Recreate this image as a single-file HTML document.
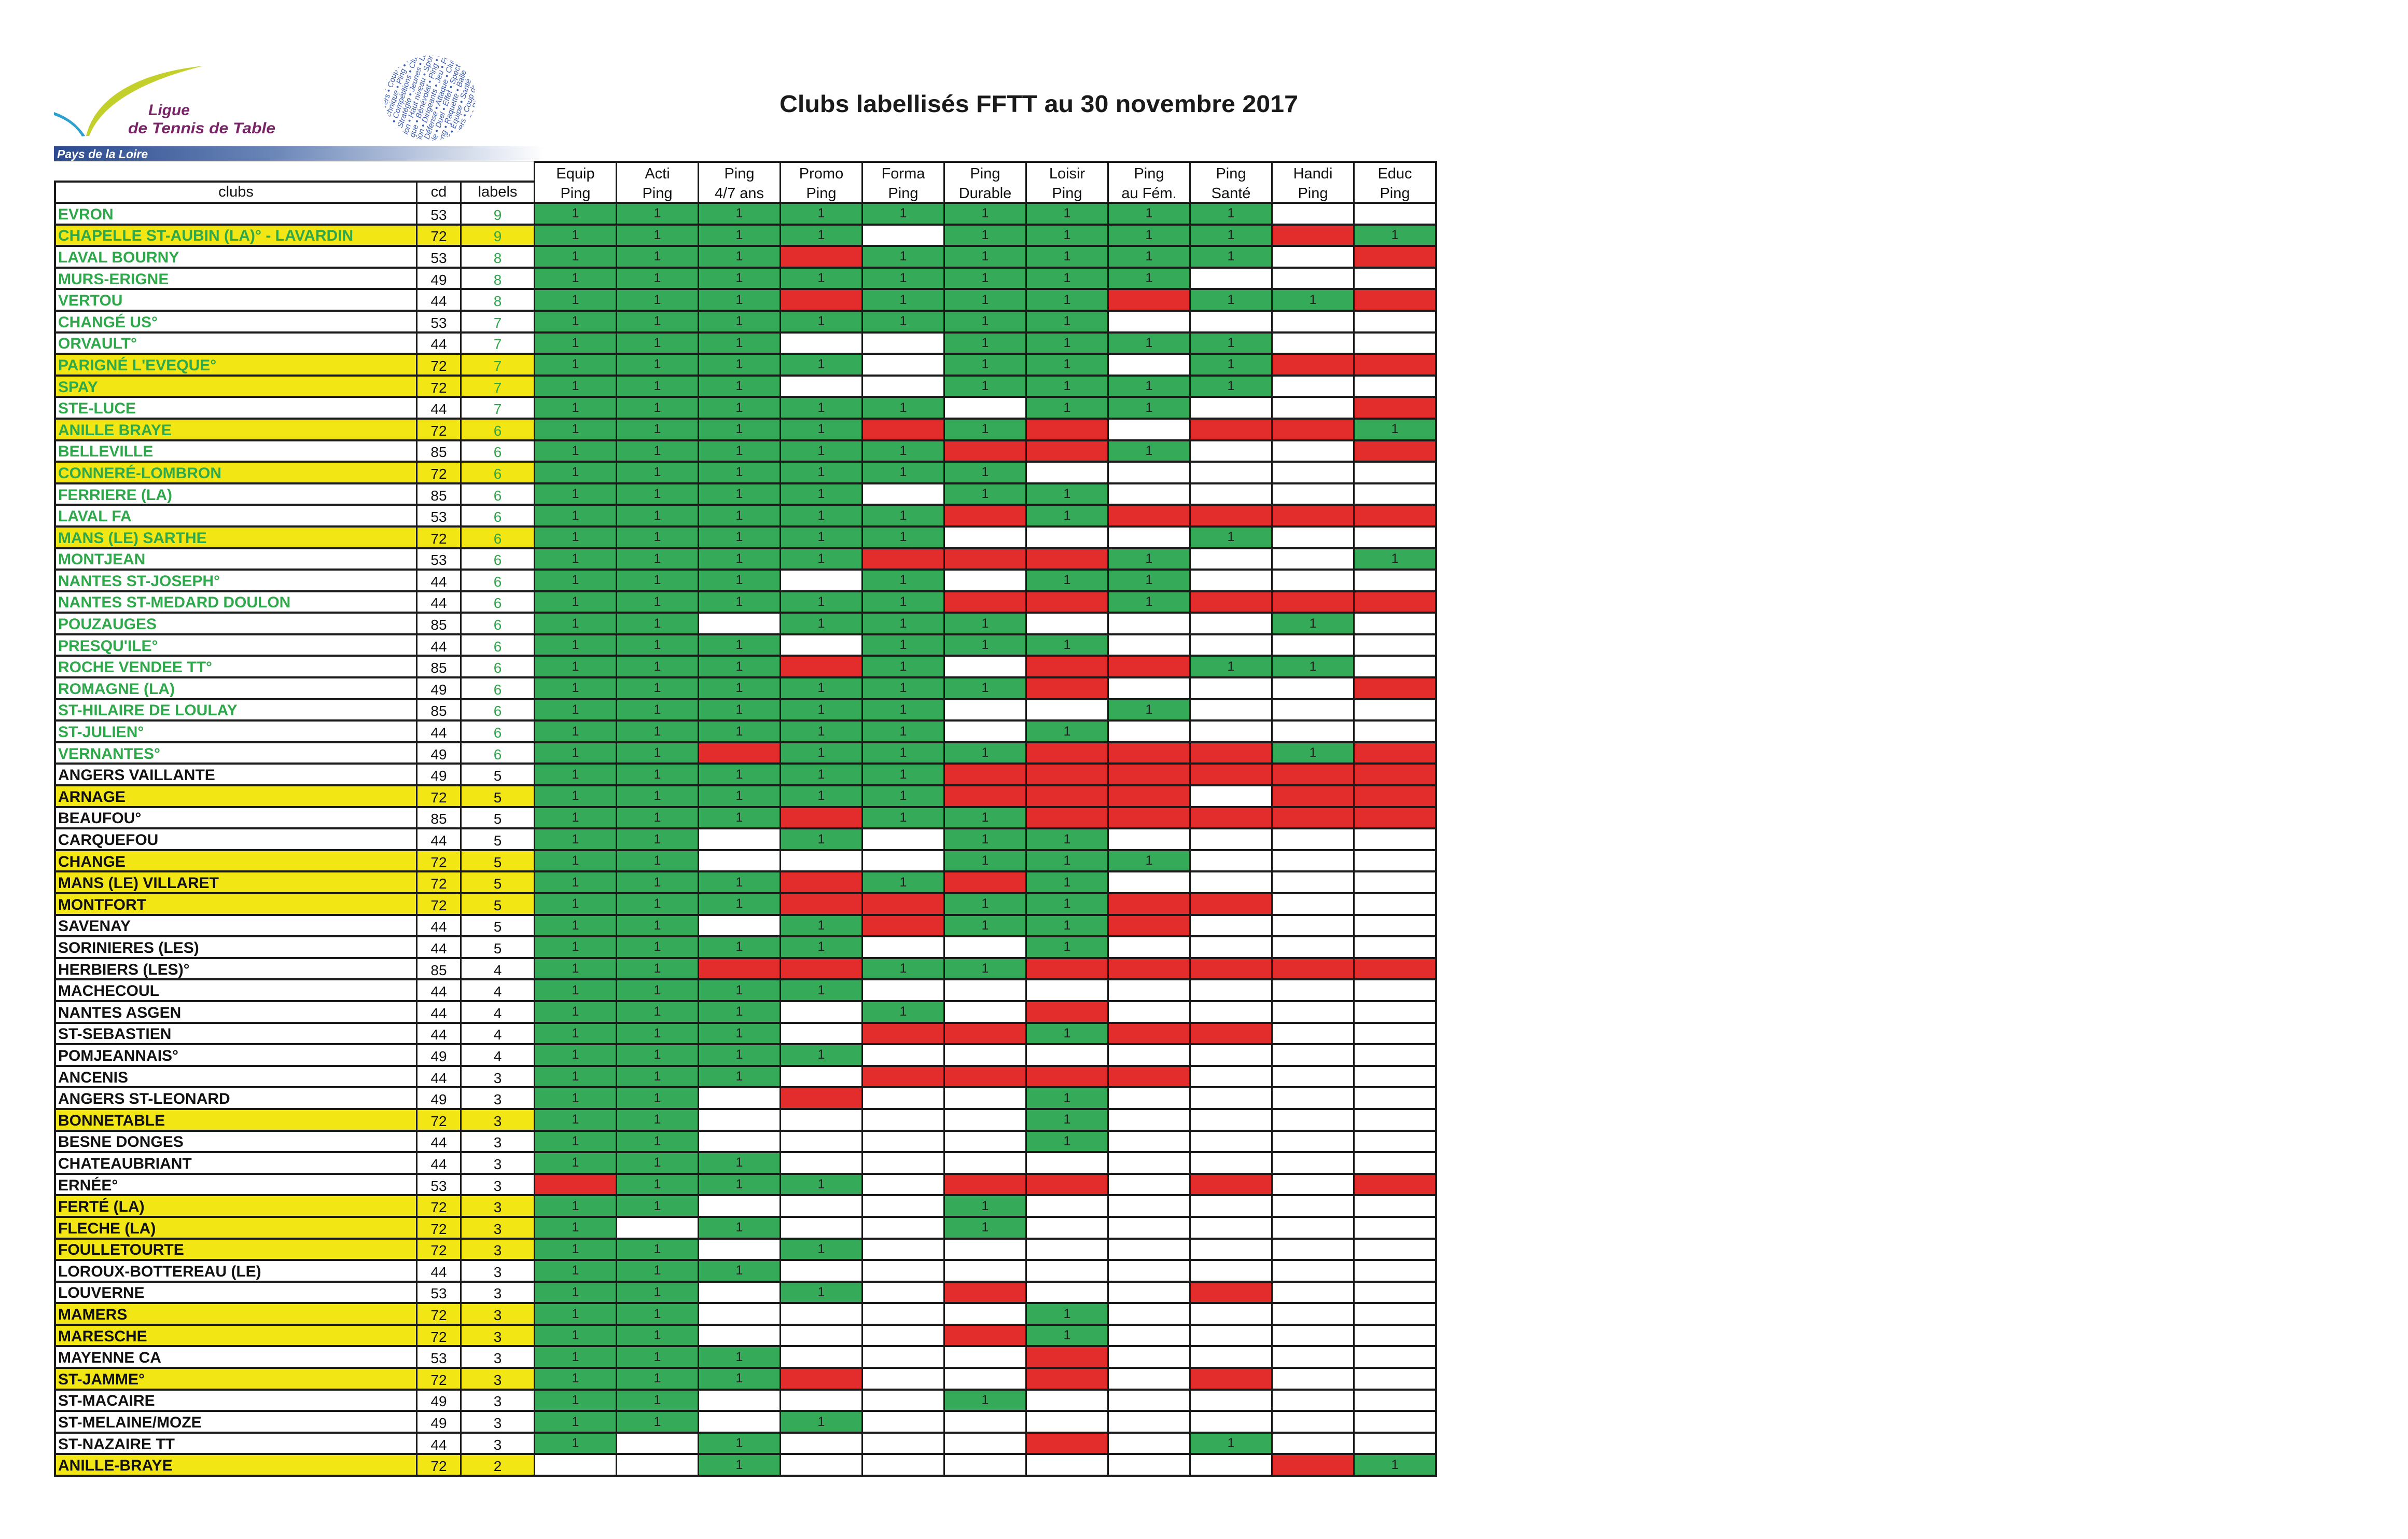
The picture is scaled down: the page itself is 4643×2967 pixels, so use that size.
<!DOCTYPE html>
<html><head><meta charset="utf-8">
<style>
html,body{margin:0;padding:0;background:#fff;}
body{width:4643px;height:2967px;position:relative;overflow:hidden;font-family:"Liberation Sans",sans-serif;}
svg.top{position:absolute;left:0;top:0;}
#t{position:absolute;left:104px;top:310px;display:grid;background:#1a1a1a;padding:4px;
grid-template-columns:694px 82px 139px repeat(11,155px);column-gap:3px;row-gap:4px;
grid-template-rows:34px 37px repeat(59,37.6px);}
#t c{display:flex;align-items:center;justify-content:center;background:#fff;font-size:25px;color:#222;white-space:nowrap;overflow:hidden;}
#t .row{display:contents;}
#t c.hd{grid-row:1/3;flex-direction:column;font-size:29px;line-height:38px;color:#111;padding-top:4px;}
#t c.h2{grid-row:2;font-size:29px;color:#111;}
#t .row c:nth-child(1){justify-content:flex-start;padding-left:4px;font-size:30px;font-weight:bold;color:#2ea84a;padding-top:4px;}
#t .row c:nth-child(2){font-size:28px;color:#111;padding-top:6px;}
#t .row c:nth-child(3){font-size:28px;color:#2ea84a;padding-top:6px;}
#t .k c:nth-child(1),#t .k c:nth-child(3){color:#111;}
#t .y c:nth-child(-n+3){background:#f2e614;}
#t c.g{background:#35aa58;}
#t c.r{background:#e32d2d;}
#cover{position:absolute;left:96px;top:311px;width:933px;height:37px;background:#fff;}
</style></head><body>
<svg class="top" width="4643" height="320" viewBox="0 0 4643 320">
<defs>
<linearGradient id="pg" x1="0" x2="1" y1="0" y2="0"><stop offset="0" stop-color="#2b4a8f"/><stop offset="0.45" stop-color="#6b86b8"/><stop offset="1" stop-color="#ffffff"/></linearGradient>
<clipPath id="cc"><ellipse cx="829" cy="189" rx="88" ry="82"/></clipPath>
</defs>
<path d="M392,127 C300,150 200,190 172,262 L166,262 C185,185 270,140 392,127 Z" fill="#c3cf2a"/>
<path d="M104,216 C130,225 150,240 164,262 L158,263 C148,245 128,230 104,222 Z" fill="#2a9fd0"/>
<text x="286" y="222" font-size="30" font-style="italic" font-weight="bold" fill="#7a2468" font-family="Liberation Sans">Ligue</text>
<text x="247" y="257" font-size="30" font-style="italic" font-weight="bold" fill="#7a2468" font-family="Liberation Sans" textLength="284" lengthAdjust="spacingAndGlyphs">de Tennis de Table</text>
<g clip-path="url(#cc)" fill="#3a5cb0" font-size="15" font-family="Liberation Sans" font-style="italic">
<g transform="rotate(-72 829 189)">
<text x="700" y="100">Jeu • Loisir • Équipe • Santé • Jeu • Loisir • Club</text>
<text x="700" y="114">Service • Revers • Coup droit • Jeu • Service</text>
<text x="700" y="128">Agilité • Technique • Ping • Pong • Agilité</text>
<text x="700" y="142">Fair-play • Compétitions • Club • Fair-play</text>
<text x="700" y="156">Loisirs • Stratégie • Jeunes • Loisirs • Jeu</text>
<text x="700" y="170">Promotion • Haut niveau • Sport • Promotion</text>
<text x="700" y="184">Olympique • Bénévolat • Ping • Olympique</text>
<text x="700" y="198">Formation • Dirigeants • Jeu • Formation</text>
<text x="700" y="212">Clubs • Défense • Attaque • Clubs • Duel</text>
<text x="700" y="226">Spectacle • Duel • Effet • Spectacle • Jeu</text>
<text x="700" y="240">Ping • Pong • Raquette • Balle • Table</text>
<text x="700" y="254">Jeu • Loisir • Équipe • Santé • Jeu</text>
<text x="700" y="268">Service • Revers • Coup droit • Jeu</text>
<text x="700" y="282">Agilité • Technique • Ping • Pong</text>
</g></g>
<rect x="104" y="282" width="946" height="29" fill="url(#pg)"/>
<text x="110" y="305" font-size="23" font-style="italic" font-weight="bold" fill="#fff" font-family="Liberation Sans">Pays de la Loire</text>
<text x="2003" y="216" font-size="46" font-weight="bold" fill="#1a1a1a" text-anchor="middle" font-family="Liberation Sans" textLength="1000" lengthAdjust="spacingAndGlyphs">Clubs labellisés FFTT au 30 novembre 2017</text>
</svg>
<div id="t">
<c style="grid-row:1;grid-column:1/4"></c>
<c class=h2 style="grid-column:1">clubs</c><c class=h2 style="grid-column:2">cd</c><c class=h2 style="grid-column:3">labels</c>
<c class=hd style="grid-column:4"><span>Equip</span><span>Ping</span></c>
<c class=hd style="grid-column:5"><span>Acti</span><span>Ping</span></c>
<c class=hd style="grid-column:6"><span>Ping</span><span>4/7 ans</span></c>
<c class=hd style="grid-column:7"><span>Promo</span><span>Ping</span></c>
<c class=hd style="grid-column:8"><span>Forma</span><span>Ping</span></c>
<c class=hd style="grid-column:9"><span>Ping</span><span>Durable</span></c>
<c class=hd style="grid-column:10"><span>Loisir</span><span>Ping</span></c>
<c class=hd style="grid-column:11"><span>Ping</span><span>au Fém.</span></c>
<c class=hd style="grid-column:12"><span>Ping</span><span>Santé</span></c>
<c class=hd style="grid-column:13"><span>Handi</span><span>Ping</span></c>
<c class=hd style="grid-column:14"><span>Educ</span><span>Ping</span></c>
<div class=row><c>EVRON</c><c>53</c><c>9</c><c class=g>1</c><c class=g>1</c><c class=g>1</c><c class=g>1</c><c class=g>1</c><c class=g>1</c><c class=g>1</c><c class=g>1</c><c class=g>1</c><c></c><c></c></div>
<div class="row y"><c>CHAPELLE ST-AUBIN (LA)° - LAVARDIN</c><c>72</c><c>9</c><c class=g>1</c><c class=g>1</c><c class=g>1</c><c class=g>1</c><c></c><c class=g>1</c><c class=g>1</c><c class=g>1</c><c class=g>1</c><c class=r></c><c class=g>1</c></div>
<div class=row><c>LAVAL BOURNY</c><c>53</c><c>8</c><c class=g>1</c><c class=g>1</c><c class=g>1</c><c class=r></c><c class=g>1</c><c class=g>1</c><c class=g>1</c><c class=g>1</c><c class=g>1</c><c></c><c class=r></c></div>
<div class=row><c>MURS-ERIGNE</c><c>49</c><c>8</c><c class=g>1</c><c class=g>1</c><c class=g>1</c><c class=g>1</c><c class=g>1</c><c class=g>1</c><c class=g>1</c><c class=g>1</c><c></c><c></c><c></c></div>
<div class=row><c>VERTOU</c><c>44</c><c>8</c><c class=g>1</c><c class=g>1</c><c class=g>1</c><c class=r></c><c class=g>1</c><c class=g>1</c><c class=g>1</c><c class=r></c><c class=g>1</c><c class=g>1</c><c class=r></c></div>
<div class=row><c>CHANGÉ US°</c><c>53</c><c>7</c><c class=g>1</c><c class=g>1</c><c class=g>1</c><c class=g>1</c><c class=g>1</c><c class=g>1</c><c class=g>1</c><c></c><c></c><c></c><c></c></div>
<div class=row><c>ORVAULT°</c><c>44</c><c>7</c><c class=g>1</c><c class=g>1</c><c class=g>1</c><c></c><c></c><c class=g>1</c><c class=g>1</c><c class=g>1</c><c class=g>1</c><c></c><c></c></div>
<div class="row y"><c>PARIGNÉ L'EVEQUE°</c><c>72</c><c>7</c><c class=g>1</c><c class=g>1</c><c class=g>1</c><c class=g>1</c><c></c><c class=g>1</c><c class=g>1</c><c></c><c class=g>1</c><c class=r></c><c class=r></c></div>
<div class="row y"><c>SPAY</c><c>72</c><c>7</c><c class=g>1</c><c class=g>1</c><c class=g>1</c><c></c><c></c><c class=g>1</c><c class=g>1</c><c class=g>1</c><c class=g>1</c><c></c><c></c></div>
<div class=row><c>STE-LUCE</c><c>44</c><c>7</c><c class=g>1</c><c class=g>1</c><c class=g>1</c><c class=g>1</c><c class=g>1</c><c></c><c class=g>1</c><c class=g>1</c><c></c><c></c><c class=r></c></div>
<div class="row y"><c>ANILLE BRAYE</c><c>72</c><c>6</c><c class=g>1</c><c class=g>1</c><c class=g>1</c><c class=g>1</c><c class=r></c><c class=g>1</c><c class=r></c><c></c><c class=r></c><c class=r></c><c class=g>1</c></div>
<div class=row><c>BELLEVILLE</c><c>85</c><c>6</c><c class=g>1</c><c class=g>1</c><c class=g>1</c><c class=g>1</c><c class=g>1</c><c class=r></c><c class=r></c><c class=g>1</c><c></c><c></c><c class=r></c></div>
<div class="row y"><c>CONNERÉ-LOMBRON</c><c>72</c><c>6</c><c class=g>1</c><c class=g>1</c><c class=g>1</c><c class=g>1</c><c class=g>1</c><c class=g>1</c><c></c><c></c><c></c><c></c><c></c></div>
<div class=row><c>FERRIERE (LA)</c><c>85</c><c>6</c><c class=g>1</c><c class=g>1</c><c class=g>1</c><c class=g>1</c><c></c><c class=g>1</c><c class=g>1</c><c></c><c></c><c></c><c></c></div>
<div class=row><c>LAVAL FA</c><c>53</c><c>6</c><c class=g>1</c><c class=g>1</c><c class=g>1</c><c class=g>1</c><c class=g>1</c><c class=r></c><c class=g>1</c><c class=r></c><c class=r></c><c class=r></c><c class=r></c></div>
<div class="row y"><c>MANS (LE) SARTHE</c><c>72</c><c>6</c><c class=g>1</c><c class=g>1</c><c class=g>1</c><c class=g>1</c><c class=g>1</c><c></c><c></c><c></c><c class=g>1</c><c></c><c></c></div>
<div class=row><c>MONTJEAN</c><c>53</c><c>6</c><c class=g>1</c><c class=g>1</c><c class=g>1</c><c class=g>1</c><c class=r></c><c class=r></c><c class=r></c><c class=g>1</c><c></c><c></c><c class=g>1</c></div>
<div class=row><c>NANTES ST-JOSEPH°</c><c>44</c><c>6</c><c class=g>1</c><c class=g>1</c><c class=g>1</c><c></c><c class=g>1</c><c></c><c class=g>1</c><c class=g>1</c><c></c><c></c><c></c></div>
<div class=row><c>NANTES ST-MEDARD DOULON</c><c>44</c><c>6</c><c class=g>1</c><c class=g>1</c><c class=g>1</c><c class=g>1</c><c class=g>1</c><c class=r></c><c class=r></c><c class=g>1</c><c class=r></c><c class=r></c><c class=r></c></div>
<div class=row><c>POUZAUGES</c><c>85</c><c>6</c><c class=g>1</c><c class=g>1</c><c></c><c class=g>1</c><c class=g>1</c><c class=g>1</c><c></c><c></c><c></c><c class=g>1</c><c></c></div>
<div class=row><c>PRESQU'ILE°</c><c>44</c><c>6</c><c class=g>1</c><c class=g>1</c><c class=g>1</c><c></c><c class=g>1</c><c class=g>1</c><c class=g>1</c><c></c><c></c><c></c><c></c></div>
<div class=row><c>ROCHE VENDEE TT°</c><c>85</c><c>6</c><c class=g>1</c><c class=g>1</c><c class=g>1</c><c class=r></c><c class=g>1</c><c></c><c class=r></c><c class=r></c><c class=g>1</c><c class=g>1</c><c></c></div>
<div class=row><c>ROMAGNE (LA)</c><c>49</c><c>6</c><c class=g>1</c><c class=g>1</c><c class=g>1</c><c class=g>1</c><c class=g>1</c><c class=g>1</c><c class=r></c><c></c><c></c><c></c><c class=r></c></div>
<div class=row><c>ST-HILAIRE DE LOULAY</c><c>85</c><c>6</c><c class=g>1</c><c class=g>1</c><c class=g>1</c><c class=g>1</c><c class=g>1</c><c></c><c></c><c class=g>1</c><c></c><c></c><c></c></div>
<div class=row><c>ST-JULIEN°</c><c>44</c><c>6</c><c class=g>1</c><c class=g>1</c><c class=g>1</c><c class=g>1</c><c class=g>1</c><c></c><c class=g>1</c><c></c><c></c><c></c><c></c></div>
<div class=row><c>VERNANTES°</c><c>49</c><c>6</c><c class=g>1</c><c class=g>1</c><c class=r></c><c class=g>1</c><c class=g>1</c><c class=g>1</c><c class=r></c><c class=r></c><c class=r></c><c class=g>1</c><c class=r></c></div>
<div class="row k"><c>ANGERS VAILLANTE</c><c>49</c><c>5</c><c class=g>1</c><c class=g>1</c><c class=g>1</c><c class=g>1</c><c class=g>1</c><c class=r></c><c class=r></c><c class=r></c><c class=r></c><c class=r></c><c class=r></c></div>
<div class="row k y"><c>ARNAGE</c><c>72</c><c>5</c><c class=g>1</c><c class=g>1</c><c class=g>1</c><c class=g>1</c><c class=g>1</c><c class=r></c><c class=r></c><c class=r></c><c></c><c class=r></c><c class=r></c></div>
<div class="row k"><c>BEAUFOU°</c><c>85</c><c>5</c><c class=g>1</c><c class=g>1</c><c class=g>1</c><c class=r></c><c class=g>1</c><c class=g>1</c><c class=r></c><c class=r></c><c class=r></c><c class=r></c><c class=r></c></div>
<div class="row k"><c>CARQUEFOU</c><c>44</c><c>5</c><c class=g>1</c><c class=g>1</c><c></c><c class=g>1</c><c></c><c class=g>1</c><c class=g>1</c><c></c><c></c><c></c><c></c></div>
<div class="row k y"><c>CHANGE</c><c>72</c><c>5</c><c class=g>1</c><c class=g>1</c><c></c><c></c><c></c><c class=g>1</c><c class=g>1</c><c class=g>1</c><c></c><c></c><c></c></div>
<div class="row k y"><c>MANS (LE) VILLARET</c><c>72</c><c>5</c><c class=g>1</c><c class=g>1</c><c class=g>1</c><c class=r></c><c class=g>1</c><c class=r></c><c class=g>1</c><c></c><c></c><c></c><c></c></div>
<div class="row k y"><c>MONTFORT</c><c>72</c><c>5</c><c class=g>1</c><c class=g>1</c><c class=g>1</c><c class=r></c><c class=r></c><c class=g>1</c><c class=g>1</c><c class=r></c><c class=r></c><c></c><c></c></div>
<div class="row k"><c>SAVENAY</c><c>44</c><c>5</c><c class=g>1</c><c class=g>1</c><c></c><c class=g>1</c><c class=r></c><c class=g>1</c><c class=g>1</c><c class=r></c><c></c><c></c><c></c></div>
<div class="row k"><c>SORINIERES (LES)</c><c>44</c><c>5</c><c class=g>1</c><c class=g>1</c><c class=g>1</c><c class=g>1</c><c></c><c></c><c class=g>1</c><c></c><c></c><c></c><c></c></div>
<div class="row k"><c>HERBIERS (LES)°</c><c>85</c><c>4</c><c class=g>1</c><c class=g>1</c><c class=r></c><c class=r></c><c class=g>1</c><c class=g>1</c><c class=r></c><c class=r></c><c class=r></c><c class=r></c><c class=r></c></div>
<div class="row k"><c>MACHECOUL</c><c>44</c><c>4</c><c class=g>1</c><c class=g>1</c><c class=g>1</c><c class=g>1</c><c></c><c></c><c></c><c></c><c></c><c></c><c></c></div>
<div class="row k"><c>NANTES ASGEN</c><c>44</c><c>4</c><c class=g>1</c><c class=g>1</c><c class=g>1</c><c></c><c class=g>1</c><c></c><c class=r></c><c></c><c></c><c></c><c></c></div>
<div class="row k"><c>ST-SEBASTIEN</c><c>44</c><c>4</c><c class=g>1</c><c class=g>1</c><c class=g>1</c><c></c><c class=r></c><c class=r></c><c class=g>1</c><c class=r></c><c class=r></c><c></c><c></c></div>
<div class="row k"><c>POMJEANNAIS°</c><c>49</c><c>4</c><c class=g>1</c><c class=g>1</c><c class=g>1</c><c class=g>1</c><c></c><c></c><c></c><c></c><c></c><c></c><c></c></div>
<div class="row k"><c>ANCENIS</c><c>44</c><c>3</c><c class=g>1</c><c class=g>1</c><c class=g>1</c><c></c><c class=r></c><c class=r></c><c class=r></c><c class=r></c><c></c><c></c><c></c></div>
<div class="row k"><c>ANGERS ST-LEONARD</c><c>49</c><c>3</c><c class=g>1</c><c class=g>1</c><c></c><c class=r></c><c></c><c></c><c class=g>1</c><c></c><c></c><c></c><c></c></div>
<div class="row k y"><c>BONNETABLE</c><c>72</c><c>3</c><c class=g>1</c><c class=g>1</c><c></c><c></c><c></c><c></c><c class=g>1</c><c></c><c></c><c></c><c></c></div>
<div class="row k"><c>BESNE DONGES</c><c>44</c><c>3</c><c class=g>1</c><c class=g>1</c><c></c><c></c><c></c><c></c><c class=g>1</c><c></c><c></c><c></c><c></c></div>
<div class="row k"><c>CHATEAUBRIANT</c><c>44</c><c>3</c><c class=g>1</c><c class=g>1</c><c class=g>1</c><c></c><c></c><c></c><c></c><c></c><c></c><c></c><c></c></div>
<div class="row k"><c>ERNÉE°</c><c>53</c><c>3</c><c class=r></c><c class=g>1</c><c class=g>1</c><c class=g>1</c><c></c><c class=r></c><c class=r></c><c></c><c class=r></c><c></c><c class=r></c></div>
<div class="row k y"><c>FERTÉ (LA)</c><c>72</c><c>3</c><c class=g>1</c><c class=g>1</c><c></c><c></c><c></c><c class=g>1</c><c></c><c></c><c></c><c></c><c></c></div>
<div class="row k y"><c>FLECHE (LA)</c><c>72</c><c>3</c><c class=g>1</c><c></c><c class=g>1</c><c></c><c></c><c class=g>1</c><c></c><c></c><c></c><c></c><c></c></div>
<div class="row k y"><c>FOULLETOURTE</c><c>72</c><c>3</c><c class=g>1</c><c class=g>1</c><c></c><c class=g>1</c><c></c><c></c><c></c><c></c><c></c><c></c><c></c></div>
<div class="row k"><c>LOROUX-BOTTEREAU (LE)</c><c>44</c><c>3</c><c class=g>1</c><c class=g>1</c><c class=g>1</c><c></c><c></c><c></c><c></c><c></c><c></c><c></c><c></c></div>
<div class="row k"><c>LOUVERNE</c><c>53</c><c>3</c><c class=g>1</c><c class=g>1</c><c></c><c class=g>1</c><c></c><c class=r></c><c></c><c></c><c class=r></c><c></c><c></c></div>
<div class="row k y"><c>MAMERS</c><c>72</c><c>3</c><c class=g>1</c><c class=g>1</c><c></c><c></c><c></c><c></c><c class=g>1</c><c></c><c></c><c></c><c></c></div>
<div class="row k y"><c>MARESCHE</c><c>72</c><c>3</c><c class=g>1</c><c class=g>1</c><c></c><c></c><c></c><c class=r></c><c class=g>1</c><c></c><c></c><c></c><c></c></div>
<div class="row k"><c>MAYENNE CA</c><c>53</c><c>3</c><c class=g>1</c><c class=g>1</c><c class=g>1</c><c></c><c></c><c></c><c class=r></c><c></c><c></c><c></c><c></c></div>
<div class="row k y"><c>ST-JAMME°</c><c>72</c><c>3</c><c class=g>1</c><c class=g>1</c><c class=g>1</c><c class=r></c><c></c><c></c><c class=r></c><c></c><c class=r></c><c></c><c></c></div>
<div class="row k"><c>ST-MACAIRE</c><c>49</c><c>3</c><c class=g>1</c><c class=g>1</c><c></c><c></c><c></c><c class=g>1</c><c></c><c></c><c></c><c></c><c></c></div>
<div class="row k"><c>ST-MELAINE/MOZE</c><c>49</c><c>3</c><c class=g>1</c><c class=g>1</c><c></c><c class=g>1</c><c></c><c></c><c></c><c></c><c></c><c></c><c></c></div>
<div class="row k"><c>ST-NAZAIRE TT</c><c>44</c><c>3</c><c class=g>1</c><c></c><c class=g>1</c><c></c><c></c><c></c><c class=r></c><c></c><c class=g>1</c><c></c><c></c></div>
<div class="row k y"><c>ANILLE-BRAYE</c><c>72</c><c>2</c><c></c><c></c><c class=g>1</c><c></c><c></c><c></c><c></c><c></c><c></c><c class=r></c><c class=g>1</c></div>
</div>
<div id="cover"></div>
</body></html>
